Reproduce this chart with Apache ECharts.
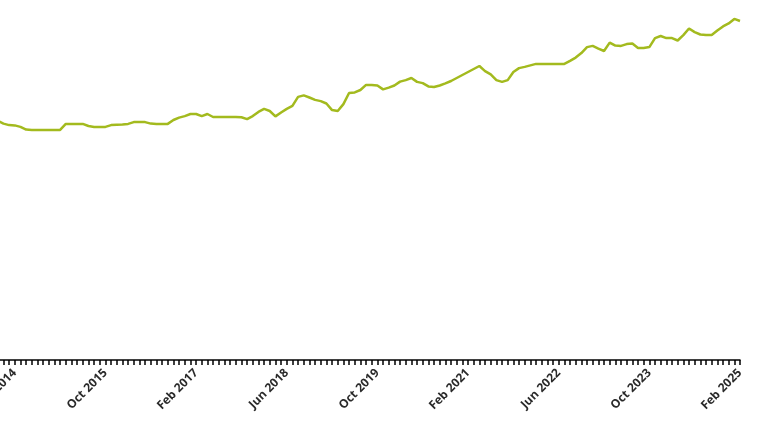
<!DOCTYPE html>
<html>
<head>
<meta charset="utf-8">
<script src="https://cdn.jsdelivr.net/npm/echarts@6/dist/echarts.min.js"></script>
<style>
html,body{margin:0;padding:0;background:#fff;}
#chart{width:760px;height:427px;}
</style>
</head>
<body>
<div id="chart"></div>
<script>
// Monthly categories, Mar 2014 .. Feb 2025
const monthNames = ["Jan","Feb","Mar","Apr","May","Jun","Jul","Aug","Sep","Oct","Nov","Dec"];
const startYear = 2014, startMonth = 2; // Mar 2014 (0-based month)
const pointCount = 132;
const categories = [];
for (let i = 0; i < pointCount; i++) {
  const m = (startMonth + i) % 12;
  const y = startYear + Math.floor((startMonth + i) / 12);
  categories.push(monthNames[m] + " " + y);
}
// Tick labels shown on the axis
const tickLabels = ["Jun 2014","Oct 2015","Feb 2017","Jun 2018","Oct 2019","Feb 2021","Jun 2022","Oct 2023","Feb 2025"];

// Series values (index level)
const values = [
  79.7, 78.8, 78.3, 78.2, 77.7, 76.8, 76.7, 76.7, 76.7, 76.7, 76.7, 76.7,   // Mar14-Feb15
  78.7, 78.7, 78.7, 78.7, 78.0, 77.7, 77.7, 77.7, 78.3, 78.4, 78.5, 78.7,   // Mar15-Feb16
  79.3, 79.3, 79.3, 78.8, 78.7, 78.7, 78.7, 80.0, 80.8, 81.3, 82.0, 82.0,   // Mar16-Feb17
  81.3, 82.0, 81.0, 81.0, 81.0, 81.0, 81.0, 80.9, 80.3, 81.3, 82.7, 83.7,   // Mar17-Feb18
  83.0, 81.2, 82.5, 83.7, 84.7, 87.7, 88.2, 87.5, 86.7, 86.3, 85.5, 83.3,   // Mar18-Feb19
  83.0, 85.3, 89.0, 89.2, 90.0, 91.7, 91.7, 91.5, 90.2, 90.8, 91.5, 92.8,   // Mar19-Feb20
  93.3, 94.0, 92.7, 92.3, 91.2, 91.0, 91.5, 92.2, 93.0, 94.0, 95.0, 96.0,   // Mar20-Feb21
  97.0, 98.0, 96.3, 95.2, 93.3, 92.7, 93.3, 96.0, 97.3, 97.7, 98.2, 98.7,   // Mar21-Feb22
  98.7, 98.7, 98.7, 98.7, 98.7, 99.7, 100.8, 102.3, 104.3, 104.7, 103.8, 103.0, // Mar22-Feb23
  105.8, 104.8, 104.7, 105.3, 105.5, 104.0, 104.0, 104.3, 107.3, 108.0, 107.3, 107.3, // Mar23-Feb24
  106.5, 108.3, 110.5, 109.3, 108.5, 108.3, 108.3, 109.8, 111.2, 112.2, 113.7, 113.0  // Mar24-Feb25
];

const chart = echarts.init(document.getElementById('chart'), null, {renderer: 'canvas'});
chart.setOption({
  animation: false,
  backgroundColor: '#ffffff',
  grid: { left: -2.2, right: 20, top: 0, bottom: 67, containLabel: false, outerBoundsMode: 'none' },
  xAxis: {
    type: 'category',
    data: categories,
    boundaryGap: false,
    axisLine: { show: true, lineStyle: { color: '#000', width: 1.5 } },
    axisTick: { show: true, interval: 0, length: 5, inside: false, lineStyle: { color: '#000', width: 1.5 } },
    axisLabel: {
      show: true,
      interval: function (idx, val) { return tickLabels.indexOf(val) >= 0; },
      rotate: 45,
      margin: 11,
      color: '#2a2a2a',
      fontSize: 12,
      fontWeight: 'bold',
      fontFamily: 'Open Sans, sans-serif'
    },
    splitLine: { show: false }
  },
  yAxis: {
    type: 'value',
    min: 0,
    max: 120,
    show: false,
    splitLine: { show: false }
  },
  series: [{
    type: 'line',
    data: values,
    showSymbol: false,
    symbol: 'none',
    smooth: false,
    clip: true,
    lineStyle: { color: '#a3ba1e', width: 2.5 },
    itemStyle: { color: '#a3ba1e' }
  }]
});
</script>
</body>
</html>
